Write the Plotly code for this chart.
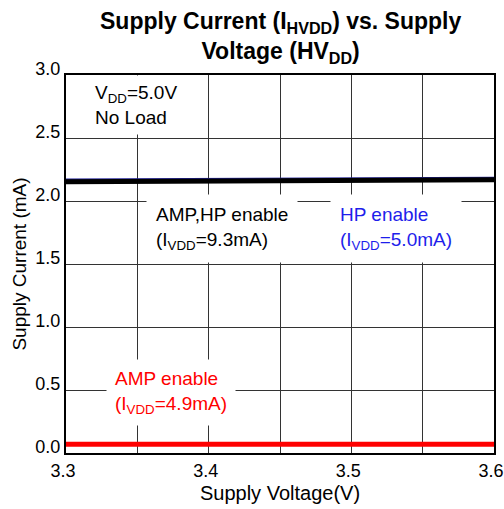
import plotly.graph_objects as go

# Data
voltage = [3.3, 3.4, 3.5, 3.6]
amp_hp_enable = [2.153, 2.158, 2.163, 2.168]
hp_enable = [2.170, 2.175, 2.180, 2.185]
amp_enable = [0.07, 0.07, 0.07, 0.07]

x_ticks = [3.3, 3.4, 3.5, 3.6]
x_tick_text = ["3.3", "3.4", "3.5", "3.6"]
y_ticks = [0.0, 0.5, 1.0, 1.5, 2.0, 2.5, 3.0]
y_tick_text = ["0.0", "0.5", "1.0", "1.5", "2.0", "2.5", "3.0"]

FONT = "Liberation Sans, Arial, sans-serif"
GRID = "#333333"

fig = go.Figure()
fig.add_trace(go.Scatter(x=voltage, y=hp_enable, mode="lines",
                         line=dict(color="#23239a", width=2), showlegend=False))
fig.add_trace(go.Scatter(x=voltage, y=amp_hp_enable, mode="lines",
                         line=dict(color="#000000", width=5), showlegend=False))
fig.add_trace(go.Scatter(x=voltage, y=amp_enable, mode="lines",
                         line=dict(color="#ff0000", width=5), showlegend=False))

fig.update_layout(
    width=504, height=509,
    margin=dict(l=66, r=10, t=75, b=56),
    paper_bgcolor="white", plot_bgcolor="white",
    font=dict(family=FONT, color="black"),
    xaxis=dict(
        range=[3.3, 3.6], tickvals=x_ticks, ticktext=x_tick_text,
        showgrid=True, gridcolor=GRID, gridwidth=1,
        minor=dict(dtick=0.05, tick0=3.3, showgrid=True, gridcolor=GRID, gridwidth=1),
        showline=True, linecolor="black", linewidth=2, mirror=True,
        zeroline=False, ticks="", automargin=False,
        ticklabelshift=-3, ticklabeloverflow="allow",
        tickfont=dict(family=FONT, size=18, color="black"),
        title=dict(text="Supply Voltage(V)", font=dict(family=FONT, size=20, color="black"),
                   standoff=6),
    ),
    yaxis=dict(
        range=[0, 3.0], tickvals=y_ticks, ticktext=y_tick_text,
        showgrid=True, gridcolor=GRID, gridwidth=1,
        showline=True, linecolor="black", linewidth=2, mirror=True,
        zeroline=False, ticks="", automargin=False,
        ticklabelshift=-6, ticklabeloverflow="allow",
        tickfont=dict(family=FONT, size=18, color="black"),
        title=dict(text="Supply Current (mA)", font=dict(family=FONT, size=19, color="black"),
                   standoff=4),
    ),
)

# Title
fig.add_annotation(x=0.5, y=1.10, xref="paper", yref="paper",
                   text="<b>Supply Current (I<sub>HVDD</sub>) vs. Supply<br>Voltage (HV<sub>DD</sub>)</b>",
                   showarrow=False, xanchor="center", yanchor="middle", align="center",
                   font=dict(family=FONT, size=23, color="black"))

ann_font = dict(family=FONT, size=19)
fig.add_annotation(x=0.051, y=0.921, xref="paper", yref="paper",
                   text="V<sub>DD</sub>=5.0V<br>No Load", showarrow=False,
                   xanchor="left", yanchor="middle", align="left",
                   font=dict(ann_font, color="black"), bgcolor="white", borderpad=6)
fig.add_annotation(x=0.187, y=0.595, xref="paper", yref="paper",
                   text="AMP,HP enable<br>(I<sub>VDD</sub>=9.3mA)", showarrow=False,
                   xanchor="left", yanchor="middle", align="left",
                   font=dict(ann_font, color="black"), bgcolor="white", borderpad=9)
fig.add_annotation(x=0.617, y=0.595, xref="paper", yref="paper",
                   text="HP enable<br>(I<sub>VDD</sub>=5.0mA)", showarrow=False,
                   xanchor="left", yanchor="middle", align="left",
                   font=dict(ann_font, color="rgb(30,30,235)"), bgcolor="white", borderpad=9)
fig.add_annotation(x=0.094, y=0.161, xref="paper", yref="paper",
                   text="AMP enable<br>(I<sub>VDD</sub>=4.9mA)", showarrow=False,
                   xanchor="left", yanchor="middle", align="left",
                   font=dict(ann_font, color="#ff0000"), bgcolor="white", borderpad=8)

# remove the page's default body margin so the figure fills the window exactly
fig.write_html("out.html", config={"displayModeBar": False},
               post_script="document.body.style.margin='0';document.body.style.overflow='hidden';")
